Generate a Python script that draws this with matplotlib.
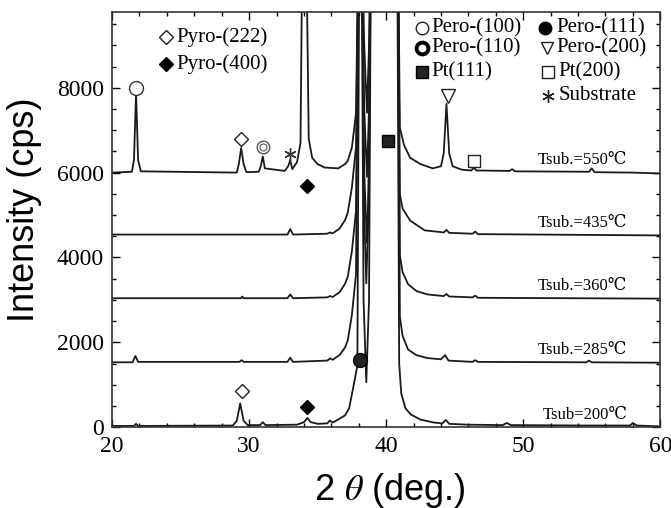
import numpy as np
import matplotlib.pyplot as plt
from matplotlib.ticker import MultipleLocator

# 2theta / intensity points (off-scale points set to 12000)
x_200 = [20.0, 21.6, 21.75, 21.9, 28.8, 29.1, 29.35, 29.6, 29.9, 30.8, 31.0, 31.2, 33.5, 34.0, 34.25, 34.5, 35.0,
         35.7, 35.9, 36.1, 36.6, 37.0, 37.3, 37.6, 37.9, 38.05, 38.2, 38.35, 38.55, 38.75, 38.9, 40.8, 40.95, 41.1,
         41.4, 41.8, 42.5, 43.5, 44.1, 44.35, 44.6, 46.0, 48.5, 48.8, 49.1, 55.0, 57.8, 58.0, 58.3, 60.0]
y_200 = [30, 30, 80, 30, 40, 150, 560, 150, 50, 50, 120, 50, 60, 120, 220, 120, 80,
         90, 160, 110, 200, 280, 450, 940, 1450, 12000, 12000, 3000, 1060, 3000, 12000, 12000, 1500, 800,
         450, 300, 180, 110, 90, 170, 80, 60, 50, 100, 50, 40, 40, 100, 40, 20]

x_285 = [20.0, 21.5, 21.7, 21.9, 29.3, 29.45, 29.6, 32.8, 33.0, 33.2, 35.7, 35.9, 36.1, 36.6, 37.0, 37.2, 37.5,
         37.8, 38.0, 38.2, 38.4, 38.55, 38.7, 38.85, 40.85, 41.0, 41.2, 41.6, 42.2, 43.0, 44.0, 44.3, 44.55, 46.3,
         46.5, 46.7, 54.6, 54.8, 55.0, 60.0]
y_285 = [1530, 1530, 1680, 1540, 1540, 1580, 1540, 1540, 1640, 1540, 1570, 1620, 1590, 1700, 1880, 2050, 2650,
         3600, 12000, 12000, 5000, 3390, 5000, 12000, 12000, 2600, 2150, 1830, 1700, 1630, 1600, 1700, 1570, 1540,
         1580, 1540, 1530, 1570, 1530, 1520]

x_360 = [20.0, 29.4, 29.5, 29.6, 32.8, 33.0, 33.2, 35.7, 35.9, 36.1, 36.6, 37.0, 37.2, 37.5, 37.8, 38.0, 38.2,
         38.4, 38.6, 38.75, 38.9, 40.85, 41.0, 41.2, 41.6, 42.2, 43.0, 44.2, 44.4, 44.6, 46.3, 46.5, 46.7, 60.0]
y_360 = [3040, 3040, 3080, 3040, 3040, 3130, 3040, 3060, 3090, 3070, 3180, 3380, 3550, 4150, 5100, 12000, 12000,
         6000, 4350, 6000, 12000, 12000, 4050, 3650, 3370, 3210, 3130, 3090, 3140, 3080, 3060, 3100, 3050, 3030]

x_435 = [20.0, 32.8, 33.0, 33.2, 35.7, 35.9, 36.1, 36.6, 37.0, 37.2, 37.5, 37.8, 38.0, 38.2, 38.4, 38.6, 38.75,
         38.9, 40.85, 41.0, 41.2, 41.75, 42.8, 44.2, 44.4, 44.6, 46.3, 46.5, 46.7, 60.0]
y_435 = [4540, 4540, 4670, 4540, 4560, 4590, 4570, 4680, 4880, 5060, 5650, 6600, 12000, 12000, 7500, 5900, 7500,
         12000, 12000, 5500, 5150, 4870, 4640, 4590, 4650, 4580, 4560, 4610, 4550, 4520]

x_550 = [20.0, 21.45, 21.6, 21.75, 21.9, 22.1, 29.1, 29.25, 29.42, 29.6, 29.8, 30.7, 30.85, 31.0, 31.15, 32.6,
         32.85, 33.0, 33.15, 33.5, 33.75, 33.9, 34.15, 34.35, 34.6, 35.0, 35.5, 36.5, 37.0, 37.2, 37.5, 37.8,
         38.0, 38.2, 38.4, 38.6, 38.75, 38.9, 40.85, 41.0, 41.3, 41.75, 42.5, 43.4, 44.0, 44.2, 44.4, 44.6, 44.85,
         45.5, 46.2, 46.4, 46.6, 49.0, 49.2, 49.4, 54.8, 55.0, 55.2, 58.0, 60.0]
y_550 = [6000, 6020, 6300, 7880, 6300, 6030, 6000, 6200, 6580, 6200, 6010, 6020, 6150, 6380, 6100, 6040,
         6150, 6300, 6080, 6250, 6700, 12000, 12000, 6800, 6350, 6200, 6120, 6100, 6200, 6280, 6590, 7400,
         12000, 12000, 9000, 7410, 9000, 12000, 12000, 7060, 6650, 6350, 6200, 6100, 6150, 6450, 7620, 6450, 6150,
         6070, 6050, 6110, 6050, 6040, 6080, 6030, 6020, 6100, 6010, 6000, 5980]

curves = [(x_200, y_200), (x_285, y_285), (x_360, y_360), (x_435, y_435), (x_550, y_550)]

temp_labels = ['Tsub=200℃', 'Tsub.=285℃', 'Tsub.=360℃', 'Tsub.=435℃', 'Tsub.=550℃']
temp_label_y = [290, 1820, 3330, 4810, 6290]

serif = ['Liberation Serif', 'DejaVu Serif']
sans = ['Liberation Sans', 'DejaVu Sans']
plt.rcParams['mathtext.fontset'] = 'stix'

fig = plt.figure(figsize=(6.71, 5.08), dpi=100)
ax = fig.add_axes([0.167, 0.159, 0.817, 0.817])

for xs, ys in curves:
    ax.plot(xs, ys, color='#1a1a1a', lw=1.3)

for lab, ty in zip(temp_labels, temp_label_y):
    ax.text(57.6, ty, lab, ha='right', va='center', fontsize=12, family=serif)

# peak markers
mk = dict(color='black', linestyle='none')
ax.plot([21.75], [8000], marker='o', ms=10, mfc='white', mec='#333', mew=1.0, **mk)
ax.plot([29.4, 29.45], [6800, 850], marker='D', ms=7.5, mfc='white', mec='#222', mew=1.0, **mk)
ax.plot([34.2, 34.2], [5690, 470], marker='D', ms=7.5, mfc='black', **mk)
ax.plot([31.0], [6610], marker='o', ms=9, mfc='white', mec='#555', mew=1.0, **mk)
ax.plot([31.0], [6610], marker='o', ms=5, mfc='white', mec='#555', mew=0.8, **mk)
ax.plot([33.0], [6450], marker=(6, 2, 0), ms=9, mec='#333', mew=1.0, **mk)
ax.plot([38.1], [1580], marker='o', ms=10, mfc='#222', **mk)
ax.plot([40.1], [6750], marker='s', ms=9, mfc='#222', **mk)
ax.plot([44.5], [7800], marker='v', ms=10, mfc='white', mec='#222', mew=1.0, **mk)
ax.plot([46.4], [6280], marker='s', ms=9, mfc='white', mec='#222', mew=1.0, **mk)

# legend, written straight into the axes
ax.plot([23.9], [9200], marker='D', ms=7.5, mfc='white', mec='#222', mew=1.0, **mk)
ax.plot([23.9], [8565], marker='D', ms=7.5, mfc='black', **mk)
ax.text(24.7, 9200, 'Pyro-(222)', va='center', fontsize=15, family=serif)
ax.text(24.7, 8565, 'Pyro-(400)', va='center', fontsize=15, family=serif)

ax.plot([42.6], [9410], marker='o', ms=9, mfc='white', mec='#222', mew=1.0, **mk)
ax.plot([42.6], [8940], marker='o', ms=8.5, mfc='white', mec='black', mew=2.8, **mk)
ax.plot([42.6], [8380], marker='s', ms=8, mfc='#222', **mk)
ax.plot([51.6], [9410], marker='o', ms=9, mfc='black', **mk)
ax.plot([51.75], [8940], marker='v', ms=9, mfc='white', mec='#222', mew=1.0, **mk)
ax.plot([51.8], [8380], marker='s', ms=8, mfc='white', mec='#222', mew=1.0, **mk)
ax.plot([51.8], [7810], marker=(6, 2, 0), ms=9, mec='#222', mew=1.0, **mk)
ax.text(43.3, 9410, 'Pero-(100)', va='center', fontsize=15, family=serif)
ax.text(43.3, 8940, 'Pero-(110)', va='center', fontsize=15, family=serif)
ax.text(43.3, 8380, 'Pt(111)', va='center', fontsize=15, family=serif)
ax.text(52.4, 9410, 'Pero-(111)', va='center', fontsize=15, family=serif)
ax.text(52.4, 8940, 'Pero-(200)', va='center', fontsize=15, family=serif)
ax.text(52.6, 8380, 'Pt(200)', va='center', fontsize=15, family=serif)
ax.text(52.6, 7810, 'Substrate', va='center', fontsize=15, family=serif)

ax.set_xlim(20, 60)
ax.set_ylim(0, 9780)
ax.xaxis.set_major_locator(MultipleLocator(10))
ax.xaxis.set_minor_locator(MultipleLocator(2))
ax.yaxis.set_major_locator(MultipleLocator(2000))
ax.yaxis.set_minor_locator(MultipleLocator(500))
ax.tick_params(which='both', direction='in', top=True, right=True, width=1.0)
ax.tick_params(which='major', length=6, labelsize=17, pad=6)
ax.tick_params(which='minor', length=3)
for lab in ax.get_xticklabels() + ax.get_yticklabels():
    lab.set_family(serif)
for sp in ax.spines.values():
    sp.set_linewidth(1.2)
    sp.set_color('#333')

fig.text(390 / 671, 1 - 490 / 508, r'2 $\theta$ (deg.)', ha='center', va='center', fontsize=26, family=sans)
fig.text(25 / 671, 1 - 210 / 508, 'Intensity (cps)', ha='center', va='center', rotation=90,
         fontsize=26, family=sans)

fig.savefig('out.png', dpi=100)
